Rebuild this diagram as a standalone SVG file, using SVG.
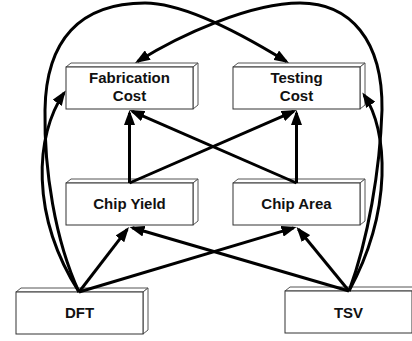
<svg xmlns="http://www.w3.org/2000/svg" width="412" height="341" viewBox="0 0 412 341">
<style>
.front{fill:#fff;stroke:#333;stroke-width:1}
.side{fill:#fff;stroke:#555;stroke-width:1;stroke-linejoin:round}
.lbl{font-family:"Liberation Sans",Arial,sans-serif;font-weight:bold;font-size:15px;fill:#111;text-anchor:middle}
.edge{fill:none;stroke:#000;stroke-width:3;marker-end:url(#ah)}
</style>
<defs>
<marker id="ah" markerUnits="userSpaceOnUse" markerWidth="15" markerHeight="11" refX="12" refY="5.5" orient="auto">
<path d="M0,0 L15,5.5 L0,11 Z" fill="#000"/>
</marker>
</defs>
<rect width="412" height="341" fill="#fff"/>
<g id="fabrication-cost">
<polygon class="side" points="66,67 71,63 198,63 193,67"/>
<polygon class="side" points="193,67 198,63 198,105 193,109"/>
<rect class="front" x="66" y="67" width="127" height="42"/>
<text class="lbl" x="129.5" y="83">Fabrication</text>
<text class="lbl" x="129.5" y="101">Cost</text>
</g>
<g id="testing-cost">
<polygon class="side" points="233,67 238,63 365,63 360,67"/>
<polygon class="side" points="360,67 365,63 365,105 360,109"/>
<rect class="front" x="233" y="67" width="127" height="42"/>
<text class="lbl" x="296.5" y="83">Testing</text>
<text class="lbl" x="296.5" y="101">Cost</text>
</g>
<g id="chip-yield">
<polygon class="side" points="66,183 71,179 198,179 193,183"/>
<polygon class="side" points="193,183 198,179 198,221 193,225"/>
<rect class="front" x="66" y="183" width="127" height="42"/>
<text class="lbl" x="129.5" y="209">Chip Yield</text>
</g>
<g id="chip-area">
<polygon class="side" points="233,183 238,179 365,179 360,183"/>
<polygon class="side" points="360,183 365,179 365,221 360,225"/>
<rect class="front" x="233" y="183" width="127" height="42"/>
<text class="lbl" x="296.5" y="209">Chip Area</text>
</g>
<g id="dft">
<polygon class="side" points="16,292 21,288 148,288 143,292"/>
<polygon class="side" points="143,292 148,288 148,330 143,334"/>
<rect class="front" x="16" y="292" width="127" height="42"/>
<text class="lbl" x="79.5" y="318">DFT</text>
</g>
<g id="tsv">
<polygon class="side" points="285,291 290,287 417,287 412,291"/>
<rect class="front" x="285" y="291" width="127" height="42"/>
<text class="lbl" x="348.5" y="318">TSV</text>
</g>
<g id="connectors">
<path class="edge" d="M129.5,183 L129.5,113"/>
<path class="edge" d="M296.5,183 L296.5,113"/>
<path class="edge" d="M129.5,183 L293.8,111.3"/>
<path class="edge" d="M296.5,183 L132.2,111.3"/>
<path class="edge" d="M79,292 L127.2,229.4"/>
<path class="edge" d="M79,292 L293.6,227.9"/>
<path class="edge" d="M349,291 L298.4,229.3"/>
<path class="edge" d="M349,291 L132.4,227.8"/>
<path class="edge" d="M79,292 C30,215 35,135 64,93"/>
<path class="edge" d="M349,291 C393,210 388,130 364,95"/>
<path class="edge" d="M79,292 C55,240 44,170 45,110 C46,40 80,3 145,3 C185,3 245,36 286.4,61.5"/>
<path class="edge" d="M349,291 C368,240 380,170 382,110 C383,40 350,3 300,3 C250,3 180,35 137.6,61.4"/>
</g>
</svg>
